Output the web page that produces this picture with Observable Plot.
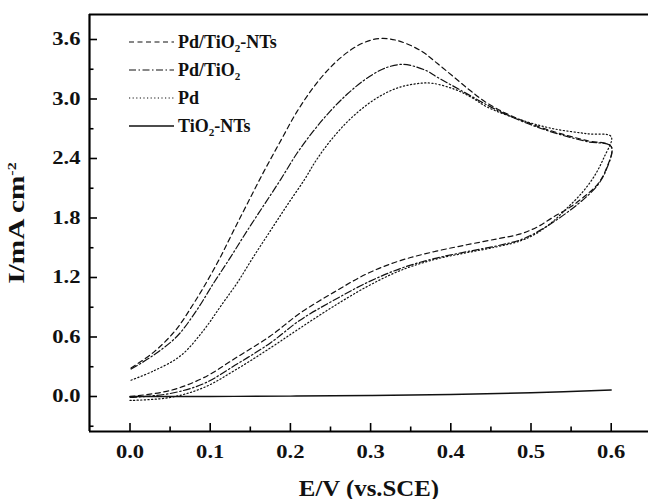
<!DOCTYPE html>
<html>
<head>
<meta charset="utf-8">
<script src="https://cdn.jsdelivr.net/npm/d3@7"></script>
<script src="https://cdn.jsdelivr.net/npm/@observablehq/plot@0.6"></script>
<style>
  html, body { margin: 0; padding: 0; background: #fff; }
  #wrap { position: relative; width: 648px; height: 499px; }
  #legend { position: absolute; left: 129px; top: 28px; font-family: 'Liberation Serif', 'Times New Roman', serif; font-weight: bold; font-size: 18px; color: #111; }
  #legend .row { display: flex; align-items: center; height: 28px; }
  #legend svg { width: 45px; height: 10px; margin-right: 4px; }
  #legend sub { font-size: 0.62em; vertical-align: -0.35em; line-height: 0; }
</style>
</head>
<body>
<div id="wrap"></div>
<script>
// ---- data ----
const seriesNames = ["Pd/TiO2-NTs", "Pd/TiO2", "Pd", "TiO2-NTs"];
const seriesDash = ["5,3.5", "7,2.5,1.5,2.5", "1.2,2.4", null];

// Pd/TiO2-NTs (dashed): lower branch 0 -> 0.6, then upper branch 0.6 -> 0
const pdTiNTsE = [0,0.05,0.092,0.134,0.175,0.212,0.254,0.296,0.337,0.379,0.42,0.458,0.487,0.508,0.528,0.549,0.57,0.583,0.593,0.6,
  0.57,0.537,0.503,0.47,0.445,0.425,0.404,0.383,0.362,0.333,0.312,0.292,0.271,0.25,0.229,0.208,0.188,0.167,0.146,0.129,0.113,0.096,0.078,0.057,0.03,0];
const pdTiNTsI = [0.0,0.06,0.19,0.40,0.61,0.84,1.05,1.24,1.37,1.46,1.53,1.59,1.64,1.71,1.81,1.91,2.04,2.14,2.28,2.52,
  2.58,2.65,2.74,2.85,2.96,3.08,3.22,3.36,3.49,3.59,3.61,3.57,3.47,3.32,3.12,2.87,2.58,2.27,1.94,1.67,1.41,1.16,0.92,0.67,0.45,0.28];

// Pd/TiO2 (dash-dot)
const pdTiE = [0,0.05,0.092,0.134,0.175,0.212,0.254,0.296,0.337,0.379,0.42,0.458,0.487,0.508,0.528,0.549,0.57,0.583,0.593,0.6,
  0.57,0.537,0.503,0.47,0.445,0.412,0.383,0.371,0.354,0.341,0.325,0.312,0.292,0.271,0.25,0.229,0.208,0.188,0.167,0.146,0.125,0.104,0.084,0.059,0.03,0];
const pdTiI = [-0.01,0.03,0.13,0.33,0.54,0.77,0.97,1.15,1.29,1.39,1.46,1.52,1.58,1.66,1.76,1.88,2.02,2.13,2.27,2.52,
  2.57,2.64,2.73,2.84,2.94,3.09,3.22,3.28,3.33,3.35,3.33,3.29,3.19,3.05,2.88,2.68,2.45,2.19,1.93,1.67,1.40,1.14,0.88,0.61,0.42,0.27];

// Pd (dotted)
const pdE = [0,0.05,0.092,0.134,0.175,0.212,0.254,0.296,0.337,0.379,0.42,0.458,0.487,0.508,0.528,0.545,0.562,0.578,0.591,0.6,
  0.57,0.528,0.487,0.445,0.425,0.404,0.375,0.354,0.333,0.312,0.292,0.271,0.25,0.232,0.217,0.196,0.175,0.154,0.134,0.113,0.092,0.063,0.03,0];
const pdI = [-0.04,-0.01,0.09,0.28,0.49,0.69,0.91,1.11,1.27,1.38,1.45,1.51,1.57,1.65,1.77,1.90,2.04,2.21,2.41,2.62,
  2.65,2.70,2.79,2.92,3.02,3.10,3.16,3.15,3.11,3.03,2.92,2.77,2.58,2.38,2.18,1.93,1.67,1.41,1.15,0.91,0.67,0.41,0.26,0.16];

// TiO2-NTs (solid)
const tiNTsE = [0,0.1,0.2,0.3,0.4,0.5,0.6];
const tiNTsI = [0,0.0,0.004,0.01,0.02,0.038,0.065];

const xDomain = [-0.0505, 0.6465];
const yDomain = [-0.353, 3.852];
const xMajor = [0, 0.1, 0.2, 0.3, 0.4, 0.5, 0.6];
const xMinor = [0.05, 0.15, 0.25, 0.35, 0.45, 0.55];
const yMajor = [0, 0.6, 1.2, 1.8, 2.4, 3.0, 3.6];
const yMinor = [-0.3, 0.3, 0.9, 1.5, 2.1, 2.7, 3.3];

const xLabel = "E/V (vs.SCE)";
const yLabelMain = "I/mA cm";
const yLabelSup = "-2";

// ---- build ----
const toPts = (E, I) => E.map((e, i) => ({E: e, I: I[i]}));
const series = [toPts(pdTiNTsE, pdTiNTsI), toPts(pdTiE, pdTiI), toPts(pdE, pdI), toPts(tiNTsE, tiNTsI)];

const W = 648, H = 499, mL = 89, mR = 0, mT = 14, mB = 68;
const frameW = W - mL - mR, frameH = H - mT - mB;
const serif = "'Liberation Serif', 'Times New Roman', serif";

const chart = Plot.plot({
  width: W, height: H,
  marginLeft: mL, marginRight: mR, marginTop: mT, marginBottom: mB,
  x: {domain: xDomain},
  y: {domain: yDomain},
  style: {fontFamily: serif, fontWeight: "bold", background: "white", color: "#111"},
  marks: [
    ...series.map((data, k) => Plot.line(data, {
      x: "E", y: "I", curve: "catmull-rom",
      stroke: "#111", strokeWidth: k === 3 ? 1.4 : 1.2,
      strokeDasharray: seriesDash[k] ?? undefined
    })),
    Plot.ruleX([xDomain[0]], {stroke: "#000", strokeWidth: 2.2}),
    Plot.ruleY(yDomain, {stroke: "#000", strokeWidth: 2.2}),
    Plot.tickY(yMajor, {y: d => d, insetRight: frameW - 8, stroke: "#000", strokeWidth: 1.6}),
    Plot.tickY(yMinor, {y: d => d, insetRight: frameW - 4.5, stroke: "#000", strokeWidth: 1.6}),
    Plot.tickX(xMajor, {x: d => d, insetTop: frameH - 8, stroke: "#000", strokeWidth: 1.6}),
    Plot.tickX(xMinor, {x: d => d, insetTop: frameH - 4.5, stroke: "#000", strokeWidth: 1.6}),
    Plot.axisX({ticks: xMajor, tickSize: 0, tickPadding: 13, tickFormat: d3.format(".1f"), fontSize: 18.5,
      label: xLabel, labelAnchor: "center", labelOffset: 64, labelArrow: "none"}),
    Plot.axisY({ticks: yMajor, tickSize: 0, tickPadding: 9, tickFormat: d3.format(".1f"), fontSize: 18.5,
      label: yLabelMain, labelAnchor: "center", labelOffset: 83, labelArrow: "none"})
  ]
});

const wrap = document.getElementById("wrap");
wrap.appendChild(chart);

// horizontal stretch of text (about its anchor x) to match the wide serif of the reference
function stretch(el, s) {
  let x = parseFloat(el.getAttribute("x"));
  if (!isFinite(x)) x = 0;
  const t = el.getAttribute("transform") || "";
  el.setAttribute("transform", `${t} translate(${x},0) scale(${s},1) translate(${-x},0)`.trim());
}
chart.querySelectorAll('[aria-label="x-axis tick label"] text, [aria-label="y-axis tick label"] text')
  .forEach(el => stretch(el, 1.22));
const ns = "http://www.w3.org/2000/svg";
const yl = chart.querySelector('[aria-label="y-axis label"] text');
if (yl) {
  yl.textContent = "";
  const a = document.createElementNS(ns, "tspan"); a.textContent = yLabelMain;
  const b = document.createElementNS(ns, "tspan"); b.textContent = yLabelSup;
  b.setAttribute("dy", "-0.6em"); b.setAttribute("font-size", "0.55em");
  yl.appendChild(a); yl.appendChild(b);
  yl.setAttribute("font-size", "24");
  yl.style.fontSize = "24px";
  stretch(yl, 1.22);
}
const xl = chart.querySelector('[aria-label="x-axis label"] text');
if (xl) {
  xl.textContent = xLabel;
  xl.setAttribute("font-size", "23");
  xl.style.fontSize = "23px";
  stretch(xl, 1.08);
}

// legend overlay
const legendLabels = ["Pd/TiO<sub>2</sub>-NTs", "Pd/TiO<sub>2</sub>", "Pd", "TiO<sub>2</sub>-NTs"];
const leg = document.createElement("div");
leg.id = "legend";
seriesNames.forEach((name, k) => {
  const row = document.createElement("div");
  row.className = "row";
  const dash = seriesDash[k] ? `stroke-dasharray="${seriesDash[k]}"` : "";
  row.innerHTML = `<svg viewBox="0 0 45 10"><line x1="0" x2="45" y1="5" y2="5" stroke="#111" stroke-width="${k === 3 ? 1.4 : 1.2}" ${dash}/></svg><span>${legendLabels[k]}</span>`;
  leg.appendChild(row);
});
wrap.appendChild(leg);
</script>
</body>
</html>
